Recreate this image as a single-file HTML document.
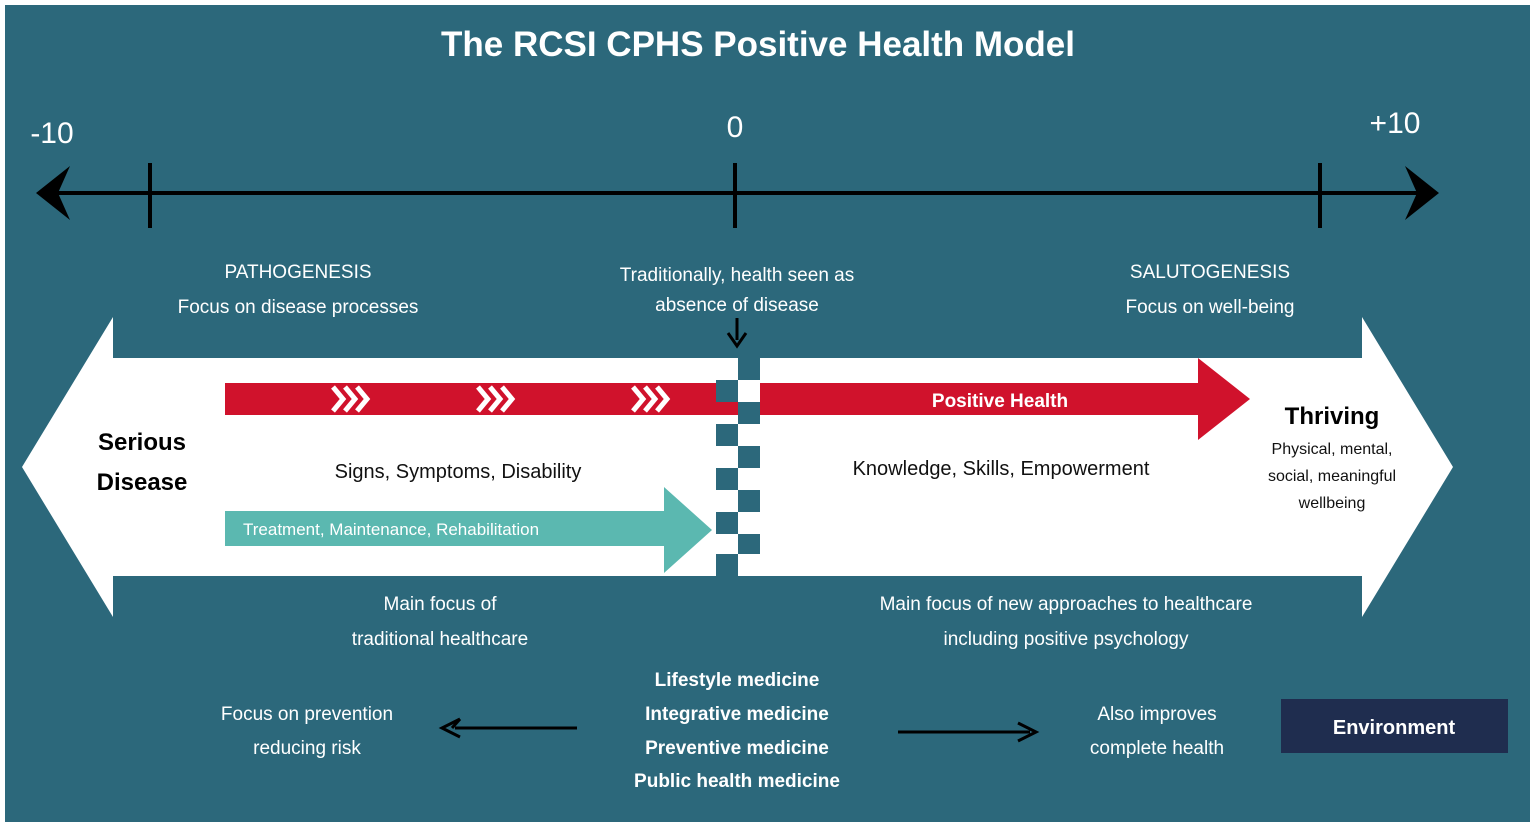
<!DOCTYPE html>
<html><head><meta charset="utf-8"><style>
body{margin:0;background:#fff}
svg{display:block}
text{font-family:"Liberation Sans",sans-serif}
</style></head><body>
<svg width="1535" height="827" viewBox="0 0 1535 827">
<rect x="0" y="0" width="1535" height="827" fill="#fff"/>
<rect x="5" y="5" width="1525" height="817" fill="#2c687b"/>
<text x="758" y="56" font-size="35" font-weight="bold" fill="#fff" text-anchor="middle">The RCSI CPHS Positive Health Model</text>
<text x="52" y="143" font-size="30" fill="#fff" text-anchor="middle">-10</text>
<text x="735" y="137" font-size="30" fill="#fff" text-anchor="middle">0</text>
<text x="1395" y="133" font-size="30" fill="#fff" text-anchor="middle">+10</text>
<line x1="50" y1="193" x2="1425" y2="193" stroke="#000" stroke-width="4"/>
<polygon points="36,193 70,166 58,193 70,220" fill="#000"/>
<polygon points="1439,193 1405,166 1417,193 1405,220" fill="#000"/>
<line x1="150" y1="163" x2="150" y2="228" stroke="#000" stroke-width="4"/>
<line x1="735" y1="163" x2="735" y2="228" stroke="#000" stroke-width="4"/>
<line x1="1320" y1="163" x2="1320" y2="228" stroke="#000" stroke-width="4"/>
<g font-size="19" fill="#fff" text-anchor="middle">
<text x="298" y="278">PATHOGENESIS</text>
<text x="298" y="313">Focus on disease processes</text>
<text x="737" y="281">Traditionally, health seen as</text>
<text x="737" y="311">absence of disease</text>
<text x="1210" y="278">SALUTOGENESIS</text>
<text x="1210" y="313">Focus on well-being</text>
<text x="440" y="610">Main focus of</text>
<text x="440" y="645">traditional healthcare</text>
<text x="1066" y="610">Main focus of new approaches to healthcare</text>
<text x="1066" y="645">including positive psychology</text>
<text x="307" y="720">Focus on prevention</text>
<text x="307" y="754">reducing risk</text>
<text x="1157" y="720">Also improves</text>
<text x="1157" y="754">complete health</text>
</g>
<g font-size="19" font-weight="bold" fill="#fff" text-anchor="middle">
<text x="737" y="686">Lifestyle medicine</text>
<text x="737" y="720">Integrative medicine</text>
<text x="737" y="754">Preventive medicine</text>
<text x="737" y="787">Public health medicine</text>
</g>
<line x1="737" y1="318" x2="737" y2="340" stroke="#000" stroke-width="3"/>
<polyline points="728,333 737,346 746,333" fill="none" stroke="#000" stroke-width="3"/>
<polygon points="22,467 113,317 113,358 1362,358 1362,317 1453,467 1362,617 1362,576 113,576 113,617" fill="#fff"/>
<g fill="#2c687b">
<rect x="738" y="358" width="22" height="22"/><rect x="716" y="380" width="22" height="22"/>
<rect x="738" y="402" width="22" height="22"/><rect x="716" y="424" width="22" height="22"/>
<rect x="738" y="446" width="22" height="22"/><rect x="716" y="468" width="22" height="22"/>
<rect x="738" y="490" width="22" height="22"/><rect x="716" y="512" width="22" height="22"/>
<rect x="738" y="534" width="22" height="20"/><rect x="716" y="554" width="22" height="22"/>
</g>
<polygon points="225,383 716,383 716,402 738,402 738,415 225,415" fill="#d0122c"/>
<polygon points="760,383 1198,383 1198,358 1250,399 1198,440 1198,415 760,415" fill="#d0122c"/>
<rect x="738" y="383" width="0" height="0"/>
<g fill="none" stroke="#fff" stroke-width="5">
<polyline points="333,387 343,399 333,411"/><polyline points="345,387 355,399 345,411"/><polyline points="357,387 367,399 357,411"/>
<polyline points="478,387 488,399 478,411"/><polyline points="490,387 500,399 490,411"/><polyline points="502,387 512,399 502,411"/>
<polyline points="633,387 643,399 633,411"/><polyline points="645,387 655,399 645,411"/><polyline points="657,387 667,399 657,411"/>
</g>
<text x="1000" y="407" font-size="19" font-weight="bold" fill="#fff" text-anchor="middle">Positive Health</text>
<polygon points="225,511 664,511 664,487 712,530 664,573 664,546 225,546" fill="#5bb8b0"/>
<text x="243" y="535" font-size="17" fill="#fff">Treatment, Maintenance, Rehabilitation</text>
<text x="142" y="450" font-size="24" font-weight="bold" fill="#000" text-anchor="middle">Serious</text>
<text x="142" y="490" font-size="24" font-weight="bold" fill="#000" text-anchor="middle">Disease</text>
<text x="458" y="478" font-size="20" fill="#111" text-anchor="middle">Signs, Symptoms, Disability</text>
<text x="1001" y="475" font-size="20" fill="#111" text-anchor="middle">Knowledge, Skills, Empowerment</text>
<text x="1332" y="424" font-size="24" font-weight="bold" fill="#000" text-anchor="middle">Thriving</text>
<g font-size="16" fill="#111" text-anchor="middle">
<text x="1332" y="454">Physical, mental,</text>
<text x="1332" y="481">social, meaningful</text>
<text x="1332" y="508">wellbeing</text>
</g>
<line x1="455" y1="728" x2="577" y2="728" stroke="#000" stroke-width="3"/>
<polyline points="452,728 460,719 M452,728 460,737" fill="none" stroke="#000" stroke-width="3"/>
<polyline points="460,719 442,728 460,737" fill="none" stroke="#000" stroke-width="3"/>
<line x1="898" y1="732" x2="1030" y2="732" stroke="#000" stroke-width="3"/>
<polyline points="1018,723 1036,732 1018,741" fill="none" stroke="#000" stroke-width="3"/>
<rect x="1281" y="699" width="227" height="54" fill="#1f2d4f"/>
<text x="1394" y="734" font-size="20" font-weight="bold" fill="#fff" text-anchor="middle">Environment</text>
</svg>
</body></html>
